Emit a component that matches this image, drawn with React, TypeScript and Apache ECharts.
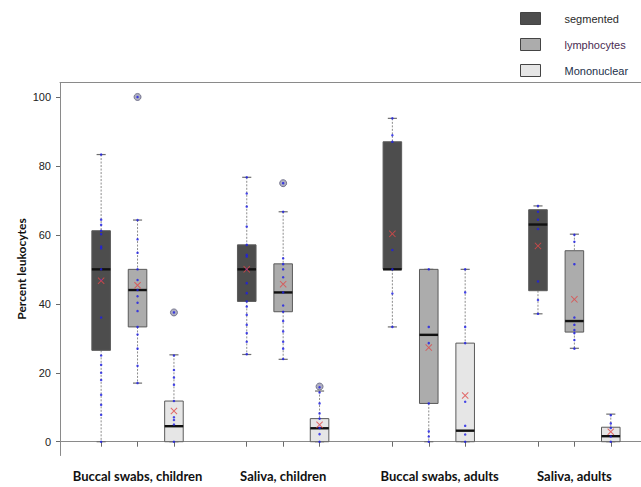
import React, { useEffect, useRef } from "react";
import * as echarts from "echarts";

const groups = ["Buccal swabs, children", "Saliva, children", "Buccal swabs, adults", "Saliva, adults"];
const cellTypes = ["segmented", "lymphocytes", "Mononuclear"];

// [min, Q1, median, Q3, max] per group
const segmentedStats = [
  [0, 26.5, 50, 61.2, 83.3],
  [25.3, 40.7, 50, 57.1, 76.7],
  [33.3, 50, 50, 87, 93.8],
  [37.1, 43.8, 63, 67.3, 68.4],
];
const lymphocytesStats = [
  [17, 33.3, 44, 50, 64.3],
  [23.9, 37.7, 43.3, 51.6, 66.7],
  [0, 11.1, 31, 50, 50],
  [27.1, 31.8, 35, 55.4, 60.2],
];
const mononuclearStats = [
  [0, 0, 4.5, 11.8, 25.2],
  [0, 0, 3.9, 6.7, 14.7],
  [0, 0, 3.2, 28.6, 50],
  [0, 0, 1.6, 4.2, 8],
];

const segmentedMeans = [46.7, 50, 60.3, 56.8];
const lymphocytesMeans = [45.4, 45.7, 27.3, 41.3];
const mononuclearMeans = [8.9, 4.9, 13.4, 2.9];

// outliers per group (empty if none)
const segmentedOutliers: number[][] = [[], [], [], []];
const lymphocytesOutliers: number[][] = [[100], [75], [], []];
const mononuclearOutliers: number[][] = [[37.5], [16], [], []];

// individual observations per group
const segmentedPoints = [
  [83.3, 64.4, 62.9, 61.2, 60.2, 56.6, 56.1, 50, 46.9, 36, 25, 22.3, 20, 17.9, 13.6, 10.7, 7.8, 0],
  [76.7, 72, 68.2, 62.4, 57.1, 54.2, 53.7, 50, 46, 43.1, 40.7, 39.2, 36.8, 33.9, 31.5, 29, 25.4],
  [93.8, 88.9, 87, 55.6, 50, 43, 33.3],
  [68.4, 66.7, 64.4, 61.7, 46.5, 41.1, 37.1],
];
const lymphocytesPoints = [
  [100, 64.3, 58.7, 54.8, 50, 46.9, 44, 42.2, 40.3, 37.9, 33.3, 31.1, 27, 22, 17],
  [75, 66.7, 53.2, 51.5, 50, 47.7, 43.3, 39.5, 37.7, 35, 32, 29, 27, 24],
  [50, 33.3, 28.6, 11.1, 3, 1.5, 0],
  [60, 58, 51.5, 36, 33.9, 32.4, 31.5, 29.5, 27],
];
const mononuclearPoints = [
  [37.5, 25, 20.8, 18.6, 16.5, 11.8, 7.1, 6.3, 5, 0],
  [15.8, 14.3, 11.1, 8.2, 6.7, 4, 2.2, 0],
  [50, 43.3, 33.3, 28.6, 11.6, 4.6, 2.1, 0],
  [7.7, 5.3, 4, 1.5, 0],
];

const yTicks = [0, 20, 40, 60, 80, 100];

const fills = ["#4d4d4d", "#acacac", "#e6e6e6"];
const legendTextColors = ["#2a2a2a", "#4a2c52", "#22304a"];

const statsAll = [segmentedStats, lymphocytesStats, mononuclearStats];
const meansAll = [segmentedMeans, lymphocytesMeans, mononuclearMeans];
const outliersAll = [segmentedOutliers, lymphocytesOutliers, mononuclearOutliers];
const pointsAll = [segmentedPoints, lymphocytesPoints, mononuclearPoints];

const pos = (g: number, t: number) => 4 * g + t + 1;
const labelShift = [0, 0, 0.3, 0];

export default function App() {
  const ref = useRef<HTMLDivElement>(null);
  useEffect(() => {
    if (!ref.current) return;
    const chart = echarts.init(ref.current, undefined, { renderer: "svg" });

    const tickPositions: number[] = [];
    groups.forEach((_, g) => cellTypes.forEach((__, t) => tickPositions.push(pos(g, t))));
    const labelPositions = groups.map((_, g) => pos(g, 1) + labelShift[g]);

    const boxSeries = cellTypes.map((name, t) => ({
      type: "custom",
      name,
      z: 2,
      itemStyle: { color: fills[t], borderColor: "#555", borderWidth: 1 },
      data: statsAll[t].map((s, g) => [pos(g, t), ...s]),
      encode: { x: 0, y: [1, 2, 3, 4, 5] },
      renderItem: (params: any, api: any) => {
        const x = api.value(0);
        const p = [1, 2, 3, 4, 5].map((i) => api.coord([x, api.value(i)]));
        const cx = p[0][0];
        const halfW = api.size([0.51, 0])[0] / 2;
        const capHalf = api.size([0.25, 0])[0] / 2;
        const [yMin, yQ1, yMed, yQ3, yMax] = p.map((q: number[]) => q[1]);
        const whisk = { stroke: "#8c8c8c", lineWidth: 1, lineDash: [2, 1.5] };
        const cap = { stroke: "#6e6e6e", lineWidth: 1.2 };
        return {
          type: "group",
          children: [
            { type: "line", shape: { x1: cx, y1: yMax, x2: cx, y2: yQ3 }, style: whisk },
            { type: "line", shape: { x1: cx, y1: yQ1, x2: cx, y2: yMin }, style: whisk },
            { type: "line", shape: { x1: cx - capHalf, y1: yMax, x2: cx + capHalf, y2: yMax }, style: cap },
            { type: "line", shape: { x1: cx - capHalf, y1: yMin, x2: cx + capHalf, y2: yMin }, style: cap },
            {
              type: "rect",
              shape: { x: cx - halfW, y: yQ3, width: 2 * halfW, height: yQ1 - yQ3 },
              style: { fill: fills[t], stroke: "#5a5a5a", lineWidth: 1 },
            },
            { type: "line", shape: { x1: cx - halfW, y1: yMed, x2: cx + halfW, y2: yMed }, style: { stroke: "#111", lineWidth: 2.4 } },
          ],
        };
      },
    }));

    const outlierData: number[][] = [];
    const pointData: number[][] = [];
    const meanData: number[][] = [];
    cellTypes.forEach((_, t) => {
      groups.forEach((__, g) => {
        outliersAll[t][g].forEach((v) => outlierData.push([pos(g, t), v]));
        pointsAll[t][g].forEach((v) => pointData.push([pos(g, t), v]));
        meanData.push([pos(g, t), meansAll[t][g]]);
      });
    });

    chart.setOption({
      animation: false,
      backgroundColor: "#ffffff",
      grid: { left: 60, right: 0, top: 82.5, bottom: 31.5 },
      legend: {
        orient: "vertical",
        left: 515,
        top: 7,
        itemWidth: 20,
        itemHeight: 12,
        itemGap: 13,
        selectedMode: false,
        data: cellTypes.map((name, t) => ({
          name,
          icon: "rect",
          itemStyle: { color: fills[t], borderColor: "#444", borderWidth: 1 },
          textStyle: { color: legendTextColors[t] },
        })),
        textStyle: { fontFamily: "Liberation Sans", fontSize: 11, padding: [0, 0, 0, 19] },
      },
      xAxis: [
        {
          type: "value",
          min: -0.13,
          max: 15.83,
          splitLine: { show: false },
          axisLine: { show: true, lineStyle: { color: "#8a8a8a", width: 1 } },
          axisTick: { show: true, customValues: tickPositions, length: 5, lineStyle: { color: "#6a6a6a" } },
          axisLabel: {
            show: true,
            customValues: labelPositions,
            margin: 14,
            fontFamily: "Lato",
            fontWeight: "bold",
            fontSize: 13,
            color: "#111",
            formatter: (v: number) => {
              const i = labelPositions.findIndex((lp) => Math.abs(lp - v) < 1e-6);
              return i >= 0 ? groups[i] : "";
            },
          },
        },
        {
          type: "value",
          position: "top",
          min: -0.13,
          max: 15.83,
          splitLine: { show: false },
          axisLine: { show: true, onZero: false, lineStyle: { color: "#8a8a8a", width: 1 } },
          axisTick: { show: false },
          axisLabel: { show: false },
        },
      ],
      yAxis: {
        type: "value",
        min: -4,
        max: 104.2,
        name: "Percent leukocytes",
        nameLocation: "middle",
        nameGap: 33,
        nameMoveOverlap: false,
        nameTextStyle: { fontFamily: "Lato", fontWeight: "bold", fontSize: 12, color: "#111" },
        splitLine: { show: false },
        axisLine: { show: true, onZero: false, lineStyle: { color: "#8a8a8a", width: 1 } },
        axisTick: { show: true, customValues: yTicks, length: 4, lineStyle: { color: "#6a6a6a" } },
        axisLabel: {
          show: true,
          customValues: yTicks,
          margin: 9,
          fontFamily: "Liberation Sans",
          fontSize: 11,
          color: "#222",
        },
      },
      series: [
        ...boxSeries,
        {
          type: "scatter",
          name: "outliers",
          z: 3,
          symbol: "circle",
          symbolSize: 7,
          itemStyle: { color: "#9a9ab2", borderColor: "#60607c", borderWidth: 1 },
          data: outlierData,
        },
        {
          type: "scatter",
          name: "points",
          z: 4,
          symbol: "circle",
          symbolSize: 2.5,
          itemStyle: { color: "#1e1ee6" },
          data: pointData,
        },
        {
          type: "scatter",
          name: "means",
          z: 5,
          symbol: "path://M0,1L1,0L5,4L9,0L10,1L6,5L10,9L9,10L5,6L1,10L0,9L4,5Z",
          symbolSize: 7,
          itemStyle: { color: "#e04848" },
          data: meanData,
        },
      ],
    });
    return () => chart.dispose();
  }, []);
  return <div ref={ref} style={{ position: "absolute", left: 0, top: 0, width: 641, height: 487 }} />;
}
